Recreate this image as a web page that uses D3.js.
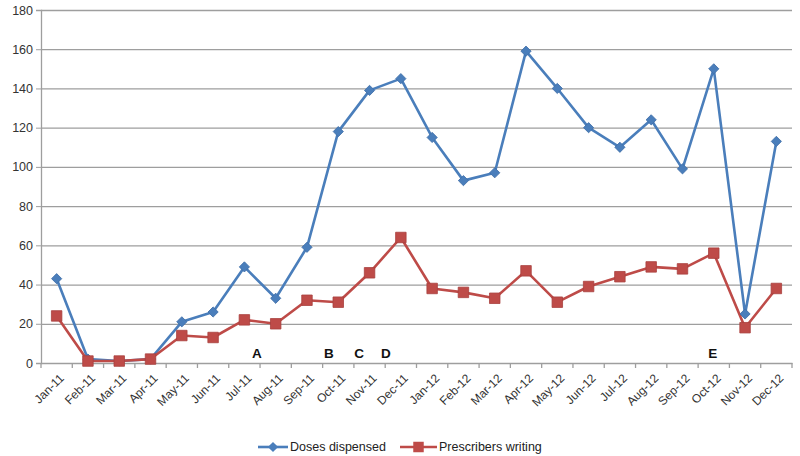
<!DOCTYPE html>
<html><head><meta charset="utf-8">
<script src="https://cdn.jsdelivr.net/npm/d3@7"></script>
<style>
body{margin:0;background:#fff;}
svg{display:block;font-family:"Liberation Sans Narrow","Liberation Sans",Arial,sans-serif;}
</style></head><body>
<svg id="c" width="800" height="456"></svg>
<script>
const months = ["Jan-11","Feb-11","Mar-11","Apr-11","May-11","Jun-11","Jul-11","Aug-11","Sep-11","Oct-11","Nov-11","Dec-11",
                "Jan-12","Feb-12","Mar-12","Apr-12","May-12","Jun-12","Jul-12","Aug-12","Sep-12","Oct-12","Nov-12","Dec-12"];
const dosesDispensed = [43,2,1,2,21,26,49,33,59,118,139,145,115,93,97,159,140,120,110,124,99,150,25,113];
const prescribersWriting = [24,1,1,2,14,13,22,20,32,31,46,64,38,36,33,47,31,39,44,49,48,56,18,38];
const yTicks = [0,20,40,60,80,100,120,140,160,180];
const seriesNames = ["Doses dispensed","Prescribers writing"];
// annotation letters, placed at a fractional category position
const annotLetters = ["A","B","C","D","E"];
const annotAt = [6.4,8.7,9.67,10.52,20.97];

const svg = d3.select("#c");
const L=41, R=792, T=10, B=363;
const x = d3.scaleBand().domain(months).range([L,R]).padding(0);
const y = d3.scaleLinear().domain([0,180]).range([B,T]);
const cx = m => x(m)+x.bandwidth()/2;
const fx = f => L + (f+0.5)*x.bandwidth();

// gridlines
svg.append("g").selectAll("line").data(yTicks.filter(d=>d>0)).join("line")
  .attr("x1",L).attr("x2",R).attr("y1",d=>y(d)+0.5).attr("y2",d=>y(d)+0.5)
  .attr("stroke","#9e9e9e").attr("stroke-width",1.3);

// y axis
const ya = svg.append("g").attr("transform",`translate(${L},0)`)
  .call(d3.axisLeft(y).tickValues(yTicks).tickSize(5).tickPadding(3));
ya.select(".domain").attr("stroke","#9e9e9e").attr("stroke-width",1.3);
ya.selectAll(".tick line").attr("stroke","#9e9e9e");
ya.selectAll("text").attr("font-size",12.5).attr("fill","#333").attr("font-family","'Liberation Sans',Arial,sans-serif");

// x axis
const xa = svg.append("g").attr("transform",`translate(0,${B})`)
  .call(d3.axisBottom(x).tickSize(0).tickPadding(0));
xa.select(".domain").attr("stroke","#9e9e9e").attr("stroke-width",1.3);
// boundary ticks
svg.append("g").selectAll("line").data(d3.range(months.length+1)).join("line")
  .attr("x1",i=>L+i*x.bandwidth()).attr("x2",i=>L+i*x.bandwidth())
  .attr("y1",B).attr("y2",B+5).attr("stroke","#9e9e9e").attr("stroke-width",1.3);
xa.selectAll(".tick text")
  .attr("font-size",12).attr("fill","#333")
  .attr("text-anchor","end")
  .attr("transform","translate(5,13) rotate(-45)")
  .attr("dy","0.35em");

// annotations
svg.append("g").selectAll("text").data(annotLetters).join("text")
  .attr("x",(d,i)=>fx(annotAt[i])).attr("y",y(0)-5)
  .attr("text-anchor","middle").attr("font-size",13.5).attr("font-weight","bold")
  .attr("font-family","'Liberation Sans',Arial,sans-serif").attr("fill","#111").text(d=>d);

const colors = ["#4a7ebb","#be4b48"];
const data = [dosesDispensed, prescribersWriting];
const line = d3.line().x((d,i)=>cx(months[i])).y(d=>y(d));

data.forEach((s,k)=>{
  svg.append("path").datum(s).attr("d",line).attr("fill","none")
    .attr("stroke",colors[k]).attr("stroke-width",2.6).attr("stroke-linejoin","round");
});
// markers: diamond = rotated square
const sym = [d3.symbol().type(d3.symbolSquare).size(52), d3.symbol().type(d3.symbolSquare).size(110)];
const rot = [45,0];
data.forEach((s,k)=>{
  svg.append("g").selectAll("path").data(s).join("path")
    .attr("d",sym[k]).attr("transform",(d,i)=>`translate(${cx(months[i])},${y(d)}) rotate(${rot[k]})`)
    .attr("fill",colors[k]).attr("stroke",k? "#a8403d":"#3f6ea8").attr("stroke-width",0.8);
});

// legend
const lg = svg.append("g");
const legX = [258,400], legW=[30,37];
seriesNames.forEach((n,k)=>{
  const g = lg.append("g");
  g.append("line").attr("x1",legX[k]).attr("x2",legX[k]+legW[k]).attr("y1",447).attr("y2",447)
    .attr("stroke",colors[k]).attr("stroke-width",2.6);
  g.append("path").attr("d",sym[k]).attr("transform",`translate(${legX[k]+legW[k]/2},447) rotate(${rot[k]})`).attr("fill",colors[k]);
  g.append("text").attr("x",legX[k]+legW[k]+2).attr("y",447).attr("dy","0.35em")
    .attr("font-size",12.5).attr("fill","#222").text(n);
});
</script></body></html>
